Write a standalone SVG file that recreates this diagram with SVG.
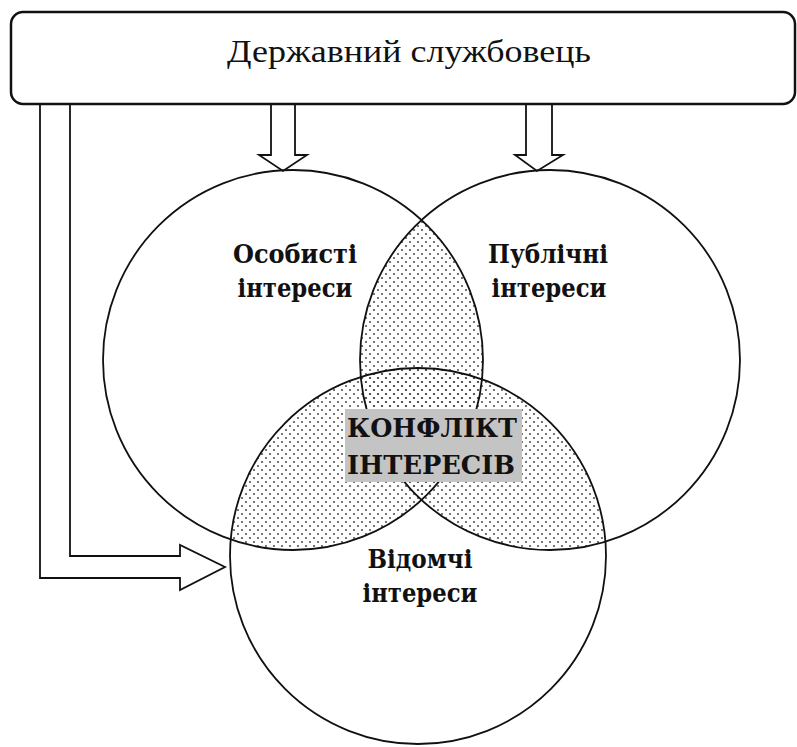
<svg xmlns="http://www.w3.org/2000/svg" width="797" height="747" viewBox="0 0 797 747">
<defs>
<style>
.ln{fill:#fff;stroke:#111;stroke-width:1.8;stroke-linejoin:miter}
.c{fill:none;stroke:#111;stroke-width:1.8}
.dot{fill:url(#dots)}
</style>
<pattern id="dots" width="8" height="8" patternUnits="userSpaceOnUse">
<circle cx="2" cy="2" r="1.1" fill="#555"/>
<circle cx="6" cy="6" r="1.1" fill="#555"/>
</pattern>
<clipPath id="clipR"><circle cx="550" cy="360" r="190"/></clipPath>
<clipPath id="clipB"><circle cx="418" cy="556" r="188"/></clipPath>
</defs>
<rect width="797" height="747" fill="#fff"/>
<g id="shading">
<circle class="dot" cx="293" cy="360" r="190" clip-path="url(#clipR)"/>
<circle class="dot" cx="293" cy="360" r="190" clip-path="url(#clipB)"/>
<circle class="dot" cx="550" cy="360" r="190" clip-path="url(#clipB)"/>
</g>
<g id="connectors">
<path class="ln" d="M40,104 V578 H180 V590 L225,567 L180,545 V556 H70 V104"/>
<path class="ln" d="M271,104 V155 H259 L283,171 L307,155 H295 V104"/>
<path class="ln" d="M526,104 V155 H515 L537,171 L563,155 H552 V104"/>
</g>
<g id="servant">
<rect x="11" y="12" width="784" height="92" rx="12" fill="#fff" stroke="#111" stroke-width="2.5"/>
<text x="409" y="62" font-family="Liberation Serif, Times New Roman, serif" font-size="32" text-anchor="middle" fill="#111" textLength="364" lengthAdjust="spacingAndGlyphs">Державний службовець</text>
</g>
<g id="personal" font-family="DejaVu Serif, serif" font-weight="bold" font-size="26" fill="#111" text-anchor="middle">
<circle class="c" cx="293" cy="360" r="190"/>
<text x="295" y="263" textLength="124" lengthAdjust="spacingAndGlyphs">Особисті</text>
<text x="295" y="297" textLength="115" lengthAdjust="spacingAndGlyphs">інтереси</text>
</g>
<g id="public" font-family="DejaVu Serif, serif" font-weight="bold" font-size="26" fill="#111" text-anchor="middle">
<circle class="c" cx="550" cy="360" r="190"/>
<text x="548" y="263" textLength="120" lengthAdjust="spacingAndGlyphs">Публічні</text>
<text x="549" y="297" textLength="115" lengthAdjust="spacingAndGlyphs">інтереси</text>
</g>
<g id="departmental" font-family="DejaVu Serif, serif" font-weight="bold" font-size="26" fill="#111" text-anchor="middle">
<circle class="c" cx="418" cy="556" r="188"/>
<text x="420" y="568" textLength="105" lengthAdjust="spacingAndGlyphs">Відомчі</text>
<text x="420" y="602" textLength="115" lengthAdjust="spacingAndGlyphs">інтереси</text>
</g>
<g id="conflict" font-family="DejaVu Serif, serif" font-weight="bold" font-size="26" fill="#111" text-anchor="middle">
<rect x="345" y="409" width="177" height="73" fill="#c4c4c4"/>
<text x="432" y="437" textLength="170" lengthAdjust="spacingAndGlyphs">КОНФЛІКТ</text>
<text x="431" y="474" textLength="168" lengthAdjust="spacingAndGlyphs">ІНТЕРЕСІВ</text>
</g>
</svg>
